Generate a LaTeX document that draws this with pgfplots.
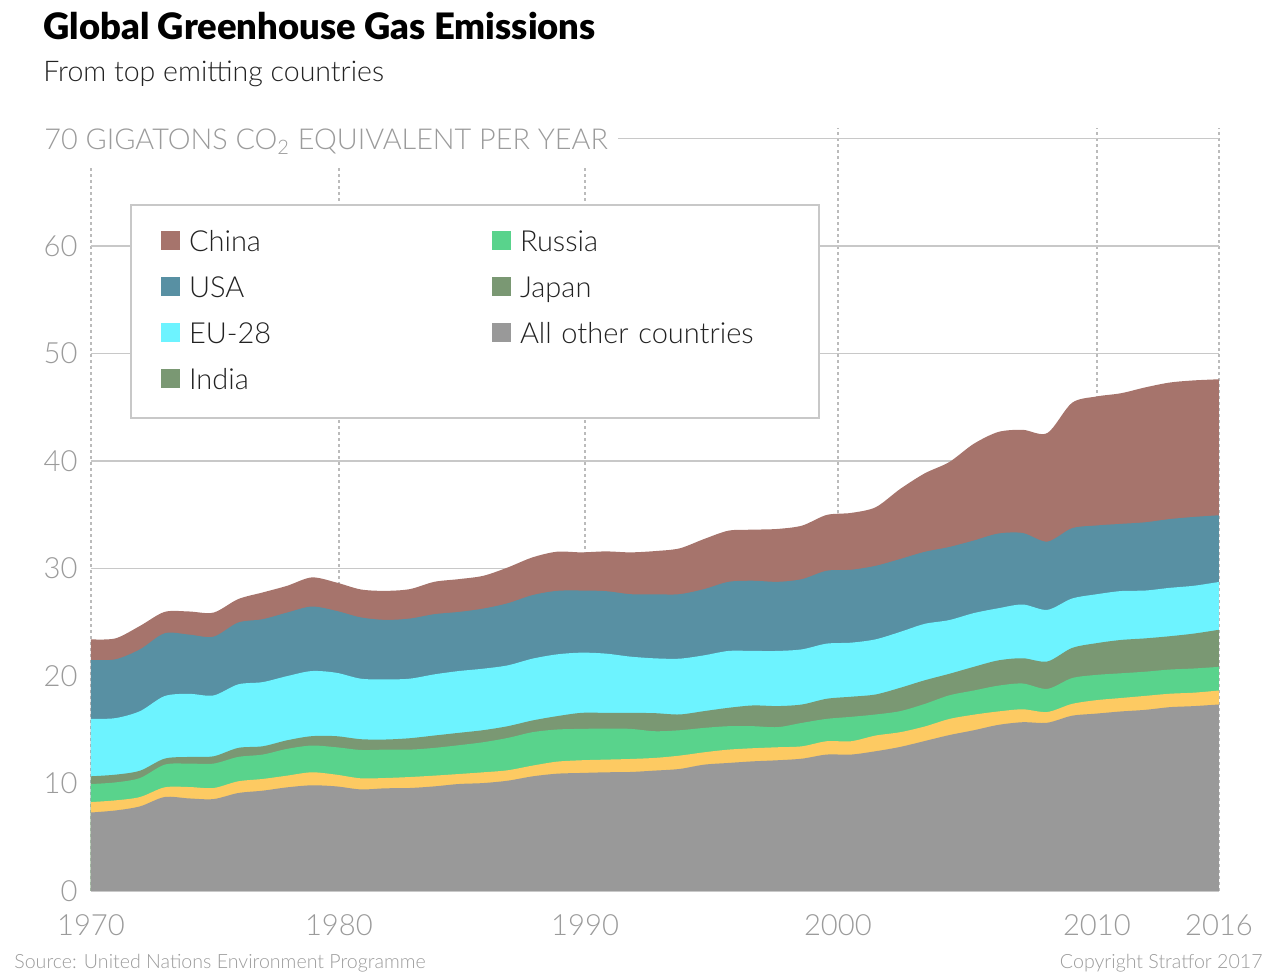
\documentclass[border=0pt]{standalone}
\usepackage{pgfplots}
\pgfplotsset{compat=1.18}
\usepackage{pgfplotstable}
\usepackage{fontspec}
\IfFontExistsTF{Lato Light}{\setmainfont{Lato Light}}{\setmainfont{Lato}}
\IfFontExistsTF{Lato Black}{\newfontfamily\titlefont{Lato Black}}{\newfontfamily\titlefont{Lato}[UprightFont=*-Bold]}

\definecolor{chinaC}{HTML}{A6746C}
\definecolor{usaC}{HTML}{5890A3}
\definecolor{euC}{HTML}{6DF3FF}
\definecolor{indiaC}{HTML}{7A9873}
\definecolor{russiaC}{HTML}{59D38C}
\definecolor{japanC}{HTML}{FDCA62}
\definecolor{otherC}{HTML}{999999}
\definecolor{tickc}{HTML}{9B9B9B}
\definecolor{gridc}{HTML}{C8C8C8}
\definecolor{dashc}{HTML}{BBBBBB}
\definecolor{txt}{HTML}{222222}

% square swatch for the legend
\pgfplotsset{sq legend/.style={legend image code/.code={\fill[##1] (0pt,1pt) rectangle (9.5pt,10.5pt);}}}

% Upper edge of each band (Gt CO2e), stacked from the bottom:
% other, +Japan, +Russia, +India, +EU-28, +USA, +China (= world total)
\pgfplotstableread{
year other japan russia india eu    usa   china
1970 7.30  8.27  9.95  10.67 16.01 21.49 23.41
1971 7.49  8.43  10.10 10.82 16.08 21.55 23.50
1972 7.87  8.74  10.51 11.19 16.73 22.48 24.66
1973 8.74  9.64  11.75 12.31 18.13 23.97 25.96
1974 8.61  9.67  11.85 12.47 18.34 23.85 26.00
1975 8.55  9.58  11.85 12.53 18.19 23.66 25.90
1976 9.11  10.20 12.47 13.31 19.22 24.97 27.15
1977 9.33  10.42 12.69 13.46 19.43 25.28 27.77
1978 9.64  10.73 13.22 14.02 19.99 25.90 28.39
1979 9.83  11.04 13.53 14.40 20.46 26.46 29.17
1980 9.73  10.82 13.37 14.40 20.30 26.06 28.70
1981 9.45  10.48 13.12 14.12 19.75 25.45 28.05
1982 9.55  10.51 13.15 14.09 19.68 25.22 27.92
1983 9.58  10.60 13.15 14.21 19.75 25.34 28.08
1984 9.73  10.73 13.31 14.46 20.15 25.75 28.76
1985 9.95  10.88 13.56 14.71 20.46 25.96 29.01
1986 10.04 11.04 13.84 14.96 20.68 26.27 29.32
1987 10.26 11.23 14.24 15.33 20.99 26.77 30.10
1988 10.66 11.66 14.77 15.86 21.61 27.52 31.03
1989 10.91 12.03 15.02 16.26 22.01 27.92 31.56
1990 10.98 12.16 15.08 16.57 22.17 27.95 31.50
1991 11.04 12.22 15.11 16.57 22.08 27.89 31.59
1992 11.07 12.28 15.08 16.57 21.80 27.61 31.50
1993 11.20 12.38 14.86 16.54 21.64 27.60 31.62
1994 11.35 12.59 14.95 16.42 21.61 27.61 31.87
1995 11.75 12.90 15.17 16.73 21.92 28.08 32.74
1996 11.91 13.15 15.33 17.04 22.33 28.76 33.52
1997 12.06 13.28 15.33 17.26 22.33 28.86 33.61
1998 12.16 13.37 15.24 17.20 22.33 28.76 33.68
1999 12.31 13.46 15.64 17.35 22.48 29.01 33.99
2000 12.69 13.93 16.01 17.88 23.01 29.79 34.98
2001 12.69 13.93 16.20 18.07 23.10 29.88 35.17
2002 13.00 14.46 16.42 18.28 23.41 30.25 35.70
2003 13.40 14.77 16.73 18.90 24.10 30.88 37.40
2004 13.95 15.30 17.40 19.60 24.85 31.55 38.85
2005 14.50 16.00 18.20 20.20 25.20 32.00 39.90
2006 14.95 16.40 18.65 20.85 25.85 32.60 41.60
2007 15.45 16.70 19.10 21.45 26.30 33.25 42.70
2008 15.70 16.90 19.30 21.65 26.65 33.30 42.90
2009 15.65 16.65 18.80 21.35 26.15 32.50 42.60
2010 16.30 17.40 19.80 22.60 27.20 33.74 45.40
2011 16.50 17.75 20.10 23.05 27.60 34.00 46.00
2012 16.70 17.95 20.25 23.35 27.90 34.15 46.30
2013 16.85 18.15 20.40 23.50 27.95 34.30 46.85
2014 17.10 18.35 20.60 23.70 28.20 34.60 47.30
2015 17.20 18.45 20.70 23.95 28.40 34.80 47.50
2016 17.35 18.65 20.85 24.30 28.75 34.95 47.60
}\emissions

\begin{document}
\begin{tikzpicture}
\useasboundingbox (-45.5pt,-43pt) rectangle (594.5pt,445.5pt);
\begin{axis}[
  name=ax, at={(0,0)}, anchor=south west,
  scale only axis, width=564pt, height=381.625pt,
  xmin=1970, xmax=2016, ymin=0, ymax=71,
  enlargelimits=false,
  axis line style={draw=none},
  major tick length=0pt,
  xtick={1970,1980.11,1990.15,2000.46,2011.02,2016},
  xticklabels={1970,1980,1990,2000,2010,2016},
  ytick={0,10,...,60},
  xmajorgrids, ymajorgrids,
  x grid style={dashc, line width=0.75pt, dash pattern=on 1.5pt off 1.5pt},
  y grid style={gridc, line width=0.75pt},
  /pgf/number format/assume math mode=true,
  ticklabel style={font=\fontsize{14.6}{14.6}\selectfont, text=tickc},
  yticklabel style={anchor=east, inner sep=0pt, xshift=-6.5pt},
  xticklabel style={anchor=north, inner sep=0pt, yshift=-11.5pt},
  legend columns=2,
  legend style={draw=none, fill=none, at={(axis cs:1972.855,61.49)}, anchor=north west,
    inner sep=0pt, outer sep=0pt, row sep=9pt,
    nodes={inner sep=0pt, anchor=base west, text height=11pt, text depth=3pt,
      font=\fontsize{14.5}{14.5}\selectfont, text=txt, text width=151.5pt, align=left},
    /tikz/every odd column/.append style={column sep=4.5pt},
    /tikz/every even column/.append style={column sep=0pt}},
]
% bands painted from the total downwards
\addplot[fill=chinaC, draw=none, smooth, forget plot] table[x=year, y=china] {\emissions} \closedcycle;
\addplot[fill=usaC, draw=none, smooth, forget plot] table[x=year, y=usa] {\emissions} \closedcycle;
\addplot[fill=euC, draw=none, smooth, forget plot] table[x=year, y=eu] {\emissions} \closedcycle;
\addplot[fill=indiaC, draw=none, smooth, forget plot] table[x=year, y=india] {\emissions} \closedcycle;
\addplot[fill=russiaC, draw=none, smooth, forget plot] table[x=year, y=russia] {\emissions} \closedcycle;
\addplot[fill=japanC, draw=none, smooth, forget plot] table[x=year, y=japan] {\emissions} \closedcycle;
\addplot[fill=otherC, draw=none, smooth, forget plot] table[x=year, y=other] {\emissions} \closedcycle;

% legend frame
\draw[gridc, line width=0.75pt, fill=white] (axis cs:1971.631,44.0) rectangle (axis cs:1999.688,63.81);

\addlegendimage{sq legend, fill=chinaC, draw=none}
\addlegendentry{China}
\addlegendimage{sq legend, fill=russiaC, draw=none}
\addlegendentry{Russia}
\addlegendimage{sq legend, fill=usaC, draw=none}
\addlegendentry{USA}
\addlegendimage{sq legend, fill=indiaC, draw=none}
\addlegendentry{Japan}
\addlegendimage{sq legend, fill=euC, draw=none}
\addlegendentry{EU-28}
\addlegendimage{sq legend, fill=otherC, draw=none}
\addlegendentry{All other countries}
\addlegendimage{sq legend, fill=indiaC, draw=none}
\addlegendentry{India}
\end{axis}

% titles, unit label and footer
\node[anchor=base west, inner sep=0pt, font=\titlefont\fontsize{18.2}{18.2}\selectfont] at (-24pt,425.5pt) {Global Greenhouse Gas Emissions};
\node[anchor=base west, inner sep=0pt, text=txt, font=\fontsize{14.25}{14.25}\selectfont] at (-24pt,404.5pt) {From top emitting countries};
\node[anchor=base west, inner xsep=0pt, inner ysep=6pt, fill=white, text=tickc, font=\fontsize{14.4}{14.4}\selectfont] (unit) at (-23.5pt,370.5pt) {70 GIGATONS CO\textsubscript{2} EQUIVALENT PER YEAR};
\draw[gridc, line width=0.75pt] ([xshift=5pt]unit.east |- 0,376.25pt) -- (564pt,376.25pt);
\node[anchor=base west, inner sep=0pt, text=tickc, font=\fontsize{9.8}{9.8}\selectfont] at (-38.5pt,-39pt) {Source: United Nations Environment Programme};
\node[anchor=base east, inner sep=0pt, text=tickc, font=\fontsize{9.8}{9.8}\selectfont] at (586pt,-39pt) {Copyright Stratfor 2017};
\end{tikzpicture}
\end{document}
